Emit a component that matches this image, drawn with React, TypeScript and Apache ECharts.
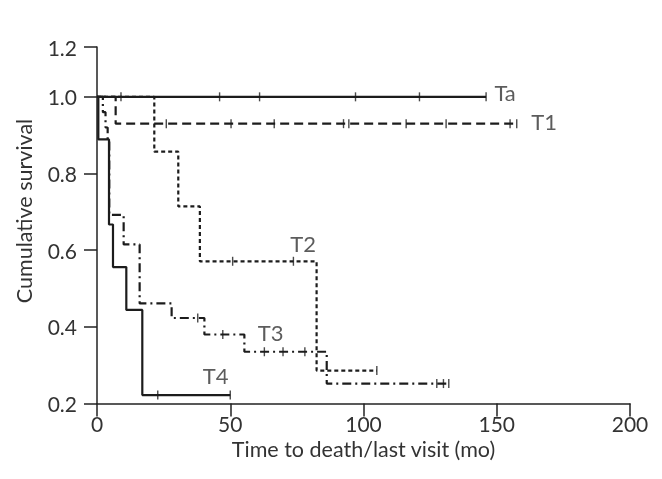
import React, { useEffect, useRef } from "react";
import * as echarts from "echarts";

// Kaplan-Meier curves: [time (mo), cumulative survival]
const curveTa: number[][] = [[0, 1.0], [146, 1.0]];
const curveT1: number[][] = [[0, 1.0], [7, 0.93], [157.5, 0.93]];
const curveT2: number[][] = [[0, 1.0], [21.5, 0.857], [30.5, 0.714], [38.6, 0.571], [82.4, 0.286], [105, 0.286]];
const curveT3: number[][] = [
  [0, 1.0], [2.2, 0.96], [3.2, 0.92], [4.0, 0.885], [4.6, 0.692], [10, 0.615], [16, 0.461],
  [28, 0.423], [40.3, 0.38], [55.3, 0.335], [86.2, 0.252], [132.5, 0.252],
];
const curveT4: number[][] = [[0, 1.0], [0.5, 0.889], [4.5, 0.667], [6, 0.556], [11, 0.444], [17, 0.222], [50, 0.222]];

// censored observations
const censorTa: number[][] = [[9, 1.0], [46, 1.0], [61, 1.0], [97, 1.0], [121, 1.0], [146, 1.0]];
const censorT1: number[][] = [[26, 0.93], [50.3, 0.93], [66.5, 0.93], [92.5, 0.93], [94.5, 0.93], [116, 0.93], [131, 0.93], [155, 0.93], [157.5, 0.93]];
const censorT2: number[][] = [[50.9, 0.571], [73.7, 0.571], [105, 0.286]];
const censorT3: number[][] = [[37.8, 0.423], [47.2, 0.38], [62.8, 0.335], [69.8, 0.335], [78, 0.335], [127.5, 0.252], [130, 0.252], [132, 0.252]];
const censorT4: number[][] = [[22.8, 0.222], [50, 0.222]];

// curve labels: [time, survival, name]
const curveLabels: (number | string)[][] = [
  [149.3, 1.01, "Ta"],
  [163.1, 0.935, "T1"],
  [72.7, 0.617, "T2"],
  [60.5, 0.383, "T3"],
  [39.9, 0.271, "T4"],
];

const xTicks = [0, 50, 100, 150, 200];
const yTickLabels = ["0.2", "0.4", "0.6", "0.8", "1.0", "1.2"];

const INK = "#1c1c1c";
const TEXT = "#333333";
const FONT = "Lato, 'Open Sans', sans-serif";

export default function App() {
  const ref = useRef<HTMLDivElement>(null);
  useEffect(() => {
    if (!ref.current) return;
    const chart = echarts.init(ref.current, null, { renderer: "svg" });
    const lineSeries = (name: string, data: number[][], type: any) => ({
      name,
      type: "line",
      step: "end",
      data,
      symbol: "none",
      lineStyle: { color: INK, width: 2.2, type },
      silent: true,
      z: 2,
    });
    const censorSeries = (data: number[][]) => ({
      type: "scatter",
      data,
      symbol: "rect",
      symbolSize: [1.4, 9],
      itemStyle: { color: INK },
      silent: true,
      z: 3,
    });
    chart.setOption({
      animation: false,
      grid: { left: 97, right: 32, top: 47, bottom: 75.5, containLabel: false },
      xAxis: {
        type: "value",
        min: xTicks[0],
        max: xTicks[xTicks.length - 1],
        interval: xTicks[1] - xTicks[0],
        name: "Time to death/last visit (mo)",
        nameLocation: "middle",
        nameGap: 31,
        nameTextStyle: { color: TEXT, fontSize: 21.5, fontFamily: FONT },
        axisLine: { lineStyle: { color: "#222", width: 1.5 } },
        axisTick: { length: 13, lineStyle: { color: "#222", width: 1.5 } },
        axisLabel: { color: TEXT, fontSize: 21, fontFamily: FONT, margin: 9 },
        splitLine: { show: false },
      },
      yAxis: {
        type: "value",
        min: 0.2,
        max: 1.13,
        interval: 0.2,
        axisLine: { show: true, lineStyle: { color: "#222", width: 1.5 } },
        axisTick: { show: true, length: 13, lineStyle: { color: "#222", width: 1.5 } },
        axisLabel: {
          color: TEXT,
          fontSize: 21,
          fontFamily: FONT,
          margin: 20,
          formatter: (v: number, i: number) => yTickLabels[i] ?? v.toFixed(1),
        },
        splitLine: { show: false },
      },
      graphic: [
        {
          type: "text",
          x: 24,
          y: 211,
          rotation: Math.PI / 2,
          style: {
            text: "Cumulative survival",
            fill: TEXT,
            fontSize: 21.5,
            fontFamily: FONT,
            textAlign: "center",
            textVerticalAlign: "middle",
          },
        },
      ],
      series: [
        lineSeries("Ta", curveTa, "solid"),
        lineSeries("T1", curveT1, [9, 5]),
        lineSeries("T2", curveT2, [4, 3]),
        lineSeries("T3", curveT3, [9, 4, 2, 4]),
        lineSeries("T4", curveT4, "solid"),
        censorSeries(censorTa),
        censorSeries(censorT1),
        censorSeries(censorT2),
        censorSeries(censorT3),
        censorSeries(censorT4),
        {
          type: "scatter",
          data: curveLabels.map((d) => ({ value: [d[0], d[1]], name: d[2] })),
          symbolSize: 1,
          itemStyle: { color: "transparent" },
          label: {
            show: true,
            formatter: (p: any) => p.name,
            position: [0, 0],
            align: "left",
            verticalAlign: "middle",
            color: TEXT,
            fontSize: 22,
            fontFamily: FONT,
          },
          silent: true,
          z: 4,
        },
      ],
    });
    return () => chart.dispose();
  }, []);
  return <div ref={ref} style={{ position: "fixed", left: 0, top: 0, width: 662, height: 479 }} />;
}
